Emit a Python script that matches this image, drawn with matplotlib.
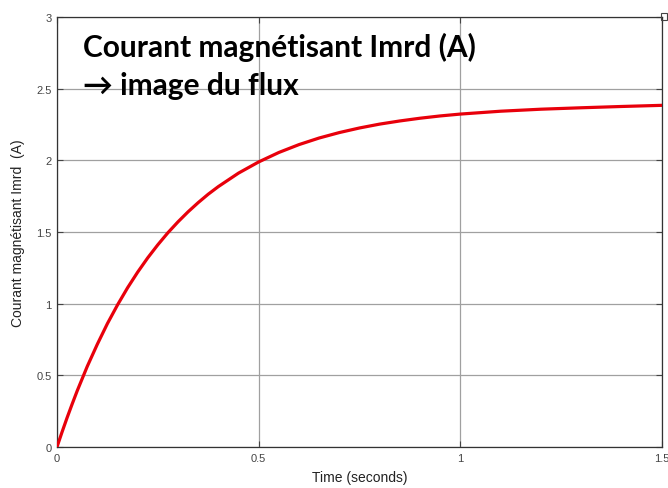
import matplotlib
matplotlib.use("Agg")
import matplotlib.pyplot as plt
from matplotlib.patches import Rectangle

# magnetising current Imrd (A) vs time (s)
t = [0.0, 0.0125, 0.025, 0.0375, 0.05, 0.075, 0.10, 0.125, 0.15, 0.175,
     0.20, 0.225, 0.25, 0.275, 0.30, 0.325, 0.35, 0.375, 0.40, 0.45,
     0.50, 0.55, 0.60, 0.65, 0.70, 0.75, 0.80, 0.85, 0.90, 0.95, 1.00,
     1.10, 1.20, 1.30, 1.40, 1.50]
imrd = [0.0, 0.104, 0.204, 0.299, 0.391, 0.562, 0.717, 0.861, 0.991, 1.111,
        1.220, 1.320, 1.411, 1.495, 1.571, 1.641, 1.705, 1.764, 1.817, 1.911,
        1.989, 2.055, 2.110, 2.156, 2.194, 2.226, 2.253, 2.275, 2.294, 2.310,
        2.323, 2.343, 2.357, 2.367, 2.376, 2.384]

xticks = [0, 0.5, 1, 1.5]
xticklabels = ["0", "0.5", "1", "1.5"]
yticks = [0, 0.5, 1, 1.5, 2, 2.5, 3]
yticklabels = ["0", "0.5", "1", "1.5", "2", "2.5", "3"]

plt.rcParams["font.family"] = ["Liberation Sans", "DejaVu Sans"]

fig = plt.figure(figsize=(6.68, 4.89), dpi=100)
ax = fig.add_axes([0.0853, 0.0838, 0.9057, 0.8793])

ax.plot(t, imrd, color="#e8000b", lw=2.3, solid_capstyle="round",
        solid_joinstyle="round", zorder=3)

ax.set_xlim(0, 1.5)
ax.set_ylim(0, 3)
ax.set_xticks(xticks)
ax.set_xticklabels(xticklabels)
ax.set_yticks(yticks)
ax.set_yticklabels(yticklabels)
ax.grid(True, color="#a0a0a0", lw=0.9)
ax.tick_params(direction="in", length=4, width=0.8, colors="#444444",
               labelsize=8, pad=4, top=True, right=True)
for s in ax.spines.values():
    s.set_color("#333333")
    s.set_linewidth(0.9)

ax.set_xlabel("Time (seconds)", fontsize=10, color="#222222", labelpad=5)
ax.set_ylabel("Courant magnétisant Imrd  (A)", fontsize=10, color="#222222",
              labelpad=8)

# annotation block in the upper left, one line per call
note_font = dict(fontsize=21.5, fontweight="bold", color="black",
                 family=["Lato", "DejaVu Sans"], va="baseline", ha="left",
                 zorder=4)
ax.text(0.064, 2.729, "Courant magnétisant Imrd (A)", **note_font)
ax.text(0.064, 2.463, "→ image du flux", **note_font)

# small window icon at the corner
fig.patches.append(Rectangle((0.9895, 0.958), 0.009, 0.013,
                             transform=fig.transFigure, fill=False,
                             edgecolor="#444444", lw=0.8))

fig.savefig("out.png", dpi=100)
